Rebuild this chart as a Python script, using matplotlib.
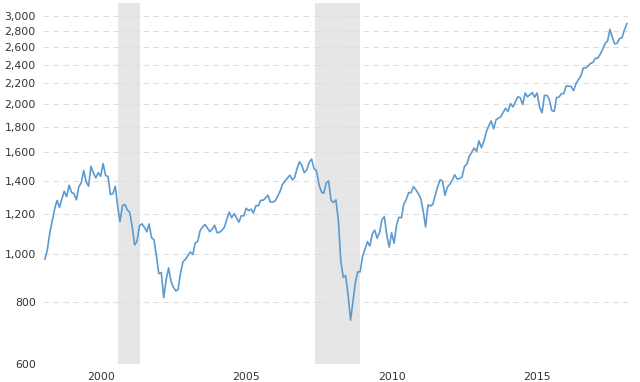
import matplotlib
matplotlib.use("Agg")
from matplotlib import pyplot as plt
from matplotlib.ticker import FixedLocator, NullLocator
import pandas as pd

# S&P 500 month-end closes, Aug 1998 - Aug 2018
closes = [
    975.00, 1017.01, 1098.67, 1163.63, 1229.23,
    1279.64, 1238.33, 1286.37, 1335.18, 1301.84, 1372.71, 1328.72, 1320.41, 1282.71, 1362.93, 1388.91, 1469.25,
    1394.46, 1366.42, 1498.58, 1452.43, 1420.60, 1454.60, 1430.83, 1517.68, 1436.51, 1429.40, 1314.95, 1320.28,
    1366.01, 1239.94, 1160.33, 1249.46, 1255.82, 1224.42, 1211.23, 1133.58, 1040.94, 1059.78, 1139.45, 1148.08,
    1130.20, 1106.73, 1147.39, 1076.92, 1067.14, 989.82, 911.62, 916.07, 815.28, 885.76, 936.31, 879.82,
    855.70, 841.15, 848.18, 916.92, 963.59, 974.50, 990.31, 1008.01, 995.97, 1050.71, 1058.20, 1111.92,
    1131.13, 1144.94, 1126.21, 1107.30, 1120.68, 1140.84, 1101.72, 1104.24, 1114.58, 1130.20, 1173.82, 1211.92,
    1181.27, 1203.60, 1180.59, 1156.85, 1191.50, 1191.33, 1234.18, 1220.33, 1228.81, 1207.01, 1249.48, 1248.29,
    1280.08, 1280.66, 1294.83, 1310.61, 1270.09, 1270.20, 1276.66, 1303.82, 1335.85, 1377.94, 1400.63, 1418.30,
    1438.24, 1406.82, 1420.86, 1482.37, 1530.62, 1503.35, 1455.27, 1473.99, 1526.75, 1549.38, 1481.14, 1468.36,
    1378.55, 1330.63, 1322.70, 1385.59, 1400.38, 1280.00, 1267.38, 1282.83, 1166.36, 968.75, 896.24, 903.25,
    825.88, 735.09, 797.87, 872.81, 919.14, 919.32, 987.48, 1020.62, 1057.08, 1036.19, 1095.63, 1115.10,
    1073.87, 1104.49, 1169.43, 1186.69, 1089.41, 1030.71, 1101.60, 1049.33, 1141.20, 1183.26, 1180.55, 1257.64,
    1286.12, 1327.22, 1325.83, 1363.61, 1345.20, 1320.64, 1292.28, 1218.89, 1131.42, 1253.30, 1246.96, 1257.60,
    1312.41, 1365.68, 1408.47, 1397.91, 1310.33, 1362.16, 1379.32, 1406.58, 1440.67, 1412.16, 1416.18, 1426.19,
    1498.11, 1514.68, 1569.19, 1597.57, 1630.74, 1606.28, 1685.73, 1632.97, 1681.55, 1756.54, 1805.81, 1848.36,
    1782.59, 1859.45, 1872.34, 1883.95, 1923.57, 1960.23, 1930.67, 2003.37, 1972.29, 2018.05, 2067.56, 2058.90,
    1994.99, 2104.50, 2067.89, 2085.51, 2107.39, 2063.11, 2103.84, 1972.18, 1920.03, 2079.36, 2080.41, 2043.94,
    1940.24, 1932.23, 2059.74, 2065.30, 2096.95, 2098.86, 2173.60, 2170.95, 2168.27, 2126.15, 2198.81, 2238.83,
    2278.87, 2363.64, 2362.72, 2384.20, 2411.80, 2423.41, 2470.30, 2471.65, 2519.36, 2575.26, 2647.58, 2673.61,
    2823.81, 2713.83, 2640.87, 2648.05, 2705.27, 2718.37, 2816.29, 2901.52,
]
dates = pd.date_range("1998-08-01", periods=len(closes), freq="MS")

recessions = [("2001-02-10", "2001-11-01"), ("2007-11-15", "2009-06-01")]
y_ticks = [600, 800, 1000, 1200, 1400, 1600, 1800, 2000, 2200, 2400, 2600, 2800, 3000]
x_labels = ["2000", "2005", "2010", "2015"]

fig = plt.figure(figsize=(6.4, 3.82), dpi=100)
ax = fig.add_axes([0.067, 0.047, 0.914, 0.945])

for start, end in recessions:
    ax.axvspan(pd.Timestamp(start), pd.Timestamp(end), color="#e6e6e6", lw=0, zorder=0)

ax.plot(dates, closes, color="#5b9bd0", lw=1.2, zorder=3)

ax.set_yscale("log")
ax.set_ylim(600, 3190)
ax.set_xlim(dates[0] - pd.Timedelta(days=25), dates[-1] + pd.Timedelta(days=12))

ax.yaxis.set_major_locator(FixedLocator(y_ticks))
ax.yaxis.set_minor_locator(NullLocator())
ax.set_yticklabels([f"{v:,}" for v in y_ticks])
ax.set_xticks([pd.Timestamp(f"{y}-07-01") for y in x_labels])
ax.set_xticklabels(x_labels)

ax.grid(axis="y", color="#dddddd", linestyle=(0, (5, 4)), lw=0.8, zorder=1)
ax.tick_params(axis="both", length=0, labelsize=7.8, colors="#333333")
ax.tick_params(axis="y", pad=5)
ax.tick_params(axis="x", pad=6)
for s in ax.spines.values():
    s.set_visible(False)

fig.savefig("out.png", dpi=100)
